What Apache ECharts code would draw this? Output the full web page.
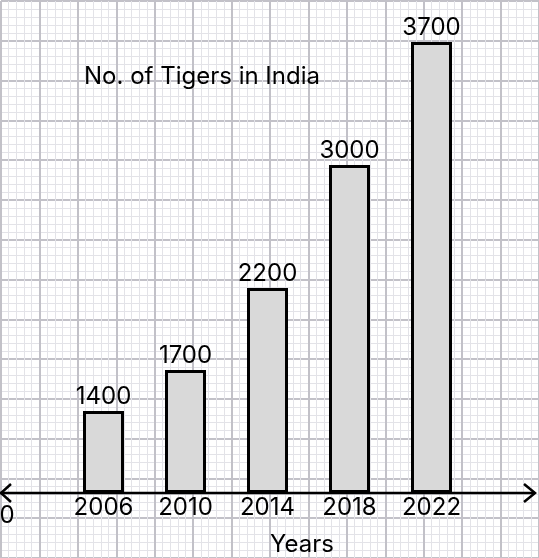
<!DOCTYPE html>
<html><head><meta charset="utf-8">
<script src="https://cdn.jsdelivr.net/npm/echarts@6/dist/echarts.min.js"></script>
<style>html,body{margin:0;padding:0;background:#fff}#c{width:539px;height:558px}</style>
</head><body><div id="c"></div>
<script>
// Data
const years = ['2006', '2010', '2014', '2018', '2022'];
const tigerCounts = [1400, 1700, 2200, 3000, 3700];      // printed labels
const drawnHeights = [2, 3, 5, 8, 11];                    // bar heights as drawn, in big grid squares
const titleText = 'No. of Tigers in India';
const xAxisName = 'Years';

const U = 41, O = 1, AXY = O + 12 * U;
const FONT = 'Inter';
const chart = echarts.init(document.getElementById('c'), null, {renderer: 'canvas'});
chart.setOption({
  animation: false,
  backgroundColor: '#ffffff',
  textStyle: {fontFamily: FONT},
  grid: [
    {left: O, top: O, width: 14 * U, height: 14 * U, containLabel: false},
    {left: O + 1.5 * U, top: O, width: 10 * U, height: 12 * U, containLabel: false}
  ],
  xAxis: [
    {type: 'value', gridIndex: 0, min: 0, max: 14, interval: 1,
     axisLine: {show: false}, axisTick: {show: false}, axisLabel: {show: false},
     splitLine: {show: true, lineStyle: {color: '#c2c1c8', width: 2}},
     minorTick: {show: false, splitNumber: 5},
     minorSplitLine: {show: true, lineStyle: {color: '#e3e3e8', width: 1}}},
    {type: 'category', gridIndex: 1, data: years, boundaryGap: true,
     axisLine: {show: false}, axisTick: {show: false}, splitLine: {show: false},
     axisLabel: {color: '#000', fontSize: 24, margin: 3, fontFamily: FONT}}
  ],
  yAxis: [
    {type: 'value', gridIndex: 0, min: -2, max: 12, interval: 1,
     axisLine: {show: false}, axisTick: {show: false}, axisLabel: {show: false},
     splitLine: {show: true, lineStyle: {color: '#c2c1c8', width: 2}},
     minorTick: {show: false, splitNumber: 5},
     minorSplitLine: {show: true, lineStyle: {color: '#e3e3e8', width: 1}}},
    {type: 'value', gridIndex: 1, min: 0, max: 12, show: false, splitLine: {show: false}}
  ],
  series: [{
    type: 'bar', xAxisIndex: 1, yAxisIndex: 1, z: 5,
    data: drawnHeights.map((h, i) => ({value: h, label: {formatter: String(tigerCounts[i])}})),
    barWidth: '50%',
    itemStyle: {color: '#d9d9d9', borderColor: '#000', borderWidth: 3},
    label: {show: true, position: 'top', distance: 2, color: '#000', fontSize: 24, fontFamily: FONT}
  }],
  graphic: [
    {type: 'line', z: 100, shape: {x1: 0, y1: AXY, x2: 535, y2: AXY}, style: {stroke: '#000', lineWidth: 2.5}},
    {type: 'polyline', z: 100, shape: {points: [[11, AXY - 9], [1, AXY], [11, AXY + 9]]}, style: {stroke: '#000', lineWidth: 2.5, fill: null}},
    {type: 'polyline', z: 100, shape: {points: [[524, AXY - 9], [535, AXY], [524, AXY + 9]]}, style: {stroke: '#000', lineWidth: 2.5, fill: null}},
    {type: 'text', z: 100, x: 7, y: 516, style: {text: '0', fontSize: 24, fill: '#000', fontFamily: FONT, align: 'center', verticalAlign: 'middle'}},
    {type: 'text', z: 100, x: 302, y: 545, style: {text: xAxisName, fontSize: 24, fill: '#000', fontFamily: FONT, align: 'center', verticalAlign: 'middle'}},
    {type: 'text', z: 100, x: 84, y: 77, style: {text: titleText, fontSize: 24, fill: '#000', fontFamily: FONT, align: 'left', verticalAlign: 'middle'}}
  ]
});
</script></body></html>
